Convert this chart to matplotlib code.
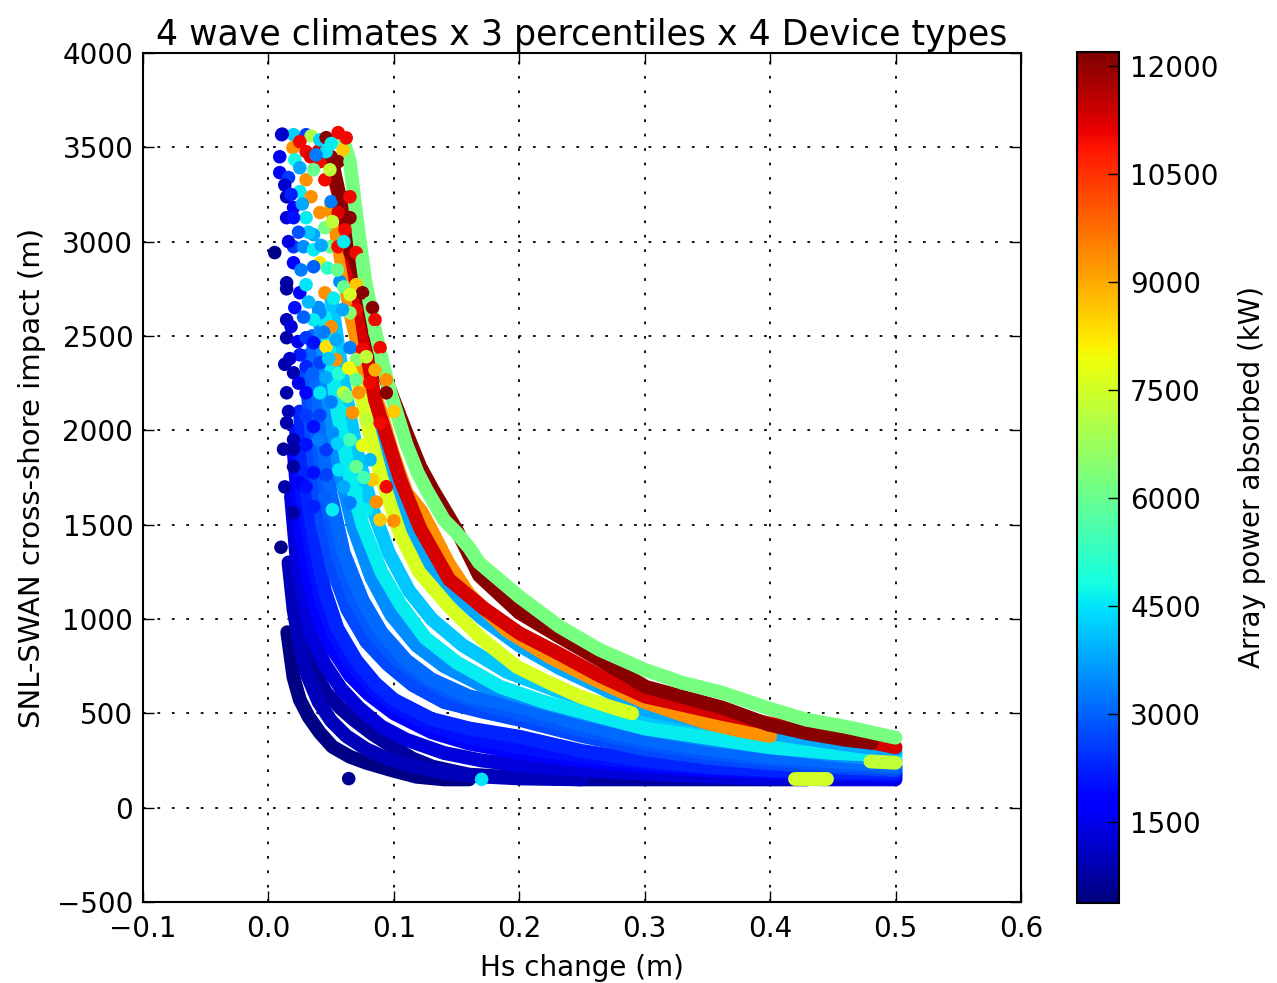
import matplotlib
matplotlib.use("Agg")
import matplotlib.pyplot as plt
from matplotlib import colors

# Bandes continues (une configuration = une courbe, puissance constante)
curve_power = [450, 700, 1000, 1300, 1800, 2000, 2300, 2700, 2900, 3100, 3500,
               4200, 4600, 3800, 7600, 9300, 11300, 12100, 6200, 7500, 7300]
curve_hs = [
    [0.015, 0.020, 0.025, 0.032, 0.041, 0.051, 0.065, 0.078, 0.097, 0.118, 0.140, 0.160],
    [0.023, 0.029, 0.035, 0.046, 0.057, 0.068, 0.083, 0.099, 0.115, 0.131, 0.16, 0.20, 0.25, 0.30, 0.36, 0.43],
    [0.016, 0.020, 0.025, 0.031, 0.040, 0.050, 0.062, 0.078, 0.095, 0.115, 0.14, 0.17, 0.20, 0.25],
    [0.018, 0.022, 0.028, 0.035, 0.045, 0.058, 0.072, 0.09, 0.11, 0.14, 0.17, 0.20, 0.25, 0.30, 0.35, 0.40, 0.45, 0.50],
    [0.020, 0.025, 0.032, 0.040, 0.050, 0.065, 0.080, 0.10, 0.13, 0.16, 0.20, 0.25, 0.30, 0.35, 0.40, 0.45, 0.50],
    [0.022, 0.027, 0.034, 0.042, 0.052, 0.066, 0.082, 0.10, 0.125, 0.155, 0.19, 0.23, 0.28, 0.33, 0.38, 0.44, 0.50],
    [0.025, 0.030, 0.037, 0.045, 0.055, 0.070, 0.085, 0.10, 0.13, 0.16, 0.20, 0.25, 0.30, 0.35, 0.40, 0.45, 0.50],
    [0.030, 0.036, 0.043, 0.052, 0.063, 0.078, 0.095, 0.115, 0.14, 0.17, 0.20, 0.25, 0.30, 0.35, 0.40, 0.45, 0.50],
    [0.032, 0.039, 0.047, 0.056, 0.068, 0.083, 0.10, 0.12, 0.145, 0.175, 0.21, 0.25, 0.30, 0.35, 0.40, 0.45, 0.50],
    [0.035, 0.042, 0.050, 0.060, 0.075, 0.090, 0.11, 0.13, 0.16, 0.20, 0.25, 0.30, 0.35, 0.40, 0.45, 0.50],
    [0.040, 0.048, 0.057, 0.068, 0.082, 0.098, 0.118, 0.14, 0.17, 0.20, 0.25, 0.30, 0.35, 0.40, 0.45, 0.50],
    [0.050, 0.060, 0.070, 0.082, 0.096, 0.112, 0.13, 0.155, 0.19, 0.23, 0.27, 0.31, 0.36, 0.41, 0.46, 0.50],
    [0.045, 0.055, 0.065, 0.075, 0.09, 0.105, 0.125, 0.15, 0.185, 0.22, 0.26, 0.30, 0.35, 0.40, 0.45, 0.50],
    [0.060, 0.070, 0.080, 0.090, 0.10, 0.115, 0.13, 0.144, 0.171, 0.20, 0.232, 0.264, 0.30, 0.35, 0.40, 0.45, 0.50],
    [0.070, 0.080, 0.090, 0.105, 0.12, 0.144, 0.171, 0.198, 0.224, 0.248, 0.27, 0.29],
    [0.050, 0.058, 0.066, 0.075, 0.089, 0.099, 0.110, 0.122, 0.130, 0.144, 0.160, 0.19, 0.224, 0.26, 0.30, 0.349, 0.375, 0.40],
    [0.040, 0.050, 0.060, 0.070, 0.078, 0.085, 0.095, 0.105, 0.121, 0.144, 0.171, 0.20, 0.232, 0.264, 0.30, 0.33, 0.36, 0.40, 0.45, 0.50],
    [0.050, 0.057, 0.066, 0.077, 0.093, 0.110, 0.121, 0.131, 0.150, 0.168, 0.200, 0.232, 0.264, 0.301, 0.330, 0.362, 0.399, 0.429, 0.460, 0.481],
    [0.060, 0.065, 0.070, 0.077, 0.085, 0.095, 0.110, 0.119, 0.126, 0.140, 0.150, 0.160, 0.168, 0.200, 0.232, 0.264, 0.300, 0.330, 0.362, 0.397, 0.429, 0.460, 0.500],
    [0.420, 0.445],
    [0.480, 0.500],
]
curve_impact = [
    [930, 690, 572, 482, 397, 323, 270, 238, 201, 164, 150, 150],
    [1140, 900, 747, 610, 530, 466, 390, 323, 260, 217, 175, 160, 150, 150, 150, 150],
    [1300, 1050, 860, 700, 560, 460, 380, 310, 260, 220, 185, 165, 155, 150],
    [1650, 1350, 1100, 900, 760, 630, 530, 430, 360, 290, 250, 225, 200, 180, 165, 155, 150, 150],
    [1900, 1500, 1200, 1000, 850, 700, 600, 500, 400, 340, 290, 250, 220, 200, 185, 175, 165],
    [2000, 1650, 1350, 1100, 920, 760, 640, 540, 450, 380, 330, 290, 250, 220, 200, 185, 175],
    [2100, 1700, 1400, 1150, 950, 780, 660, 572, 470, 420, 376, 300, 250, 215, 200, 190, 185],
    [2300, 1850, 1500, 1250, 1050, 880, 760, 650, 560, 510, 466, 380, 310, 265, 235, 215, 200],
    [2400, 1950, 1600, 1330, 1100, 930, 800, 700, 610, 540, 480, 410, 340, 290, 255, 230, 210],
    [2500, 2000, 1650, 1350, 1100, 930, 780, 680, 590, 535, 440, 360, 310, 270, 245, 220],
    [2650, 2150, 1780, 1480, 1220, 1020, 860, 750, 650, 590, 500, 420, 360, 320, 280, 250],
    [2700, 2250, 1900, 1600, 1350, 1150, 1000, 860, 720, 620, 540, 470, 410, 355, 310, 285],
    [2600, 2100, 1750, 1500, 1250, 1080, 900, 770, 640, 560, 490, 420, 370, 320, 290, 275],
    [2900, 2500, 2150, 1900, 1700, 1450, 1280, 1155, 1000, 860, 740, 640, 520, 450, 395, 345, 300],
    [2300, 2000, 1750, 1450, 1250, 1065, 890, 747, 662, 590, 540, 500],
    [3200, 2900, 2600, 2350, 2110, 1880, 1670, 1570, 1470, 1290, 1130, 940, 800, 680, 560, 450, 410, 380],
    [3480, 3400, 3150, 2780, 2430, 2160, 1950, 1740, 1480, 1210, 1060, 925, 815, 700, 590, 545, 500, 445, 390, 320],
    [3450, 3233, 2984, 2719, 2279, 1987, 1807, 1685, 1473, 1230, 1033, 906, 784, 640, 588, 530, 440, 395, 360, 344],
    [3530, 3420, 3143, 2800, 2530, 2250, 1925, 1775, 1685, 1525, 1457, 1378, 1298, 1118, 960, 837, 731, 662, 609, 530, 466, 429, 371],
    [150, 150],
    [245, 238],
]

# Points isoles (nuage en haut a gauche)
pts_hs = [0.0105, 0.020, 0.030, 0.034, 0.041, 0.046, 0.0556,
          0.0195, 0.025, 0.030, 0.0335, 0.041, 0.046, 0.0594, 0.0555, 0.065,
          0.009, 0.009, 0.016, 0.021, 0.025, 0.030, 0.036, 0.045, 0.049,
          0.0145, 0.020, 0.025, 0.034, 0.041, 0.050, 0.0556, 0.059, 0.065, 0.070, 0.065, 0.061, 0.045, 0.051, 0.030, 0.0145, 0.020, 0.036,
          0.005, 0.020, 0.028, 0.036, 0.041, 0.049, 0.0555, 0.065, 0.070, 0.075,
          0.020, 0.0145, 0.0145, 0.025, 0.030, 0.036, 0.045, 0.057, 0.060, 0.070, 0.075, 0.081, 0.083, 0.085, 0.085, 0.070, 0.065, 0.059, 0.050, 0.041, 0.036, 0.0145, 0.0145, 0.0235, 0.030, 0.036, 0.046, 0.054, 0.065, 0.075, 0.089, 0.090,
          0.020, 0.030, 0.041, 0.054, 0.070, 0.078, 0.070, 0.081, 0.094, 0.094, 0.0145, 0.030, 0.041, 0.060,
          0.0145, 0.020, 0.020, 0.020, 0.030, 0.036, 0.041, 0.046, 0.051, 0.058, 0.067, 0.078, 0.089, 0.100, 0.025, 0.036, 0.046, 0.056, 0.070, 0.081, 0.083, 0.094, 0.020, 0.036, 0.051, 0.065, 0.078, 0.086, 0.089, 0.100,
          0.010, 0.012, 0.013, 0.064, 0.170,
          0.013, 0.018, 0.027, 0.032, 0.024, 0.016, 0.042, 0.047, 0.052, 0.026, 0.032, 0.021, 0.018, 0.028, 0.044, 0.048, 0.025, 0.017, 0.035, 0.046, 0.056, 0.064, 0.024, 0.050, 0.063, 0.072, 0.085, 0.030, 0.040, 0.055, 0.065, 0.075, 0.060, 0.070, 0.045, 0.030, 0.076, 0.013, 0.016, 0.011, 0.060, 0.055, 0.065, 0.038, 0.050, 0.062]
pts_impact = [3567, 3567, 3567, 3560, 3540, 3551, 3578,
              3498, 3530, 3477, 3450, 3424, 3477, 3487, 3424, 3424,
              3450, 3366, 3340, 3434, 3392, 3328, 3381, 3328, 3381,
              3238, 3180, 3265, 3238, 3154, 3212, 3154, 3238, 3238, 3159, 3127, 3063, 3074, 3106, 3127, 3127, 3127, 3037,
              2942, 2973, 2973, 2957, 2888, 2973, 2973, 2942, 2942, 2904,
              2888, 2782, 2750, 2729, 2772, 2867, 2729, 2788, 2760, 2772, 2729, 2676, 2650, 2586, 2517, 2639, 2623, 2639, 2549, 2623, 2586, 2586, 2491, 2470, 2491, 2464, 2443, 2480, 2438, 2427, 2438, 2374,
              2305, 2337, 2358, 2374, 2374, 2390, 2268, 2252, 2268, 2199, 2199, 2199, 2199, 2199,
              2040, 1950, 1900, 1807, 1924, 2020, 2080, 1897, 1987, 2100, 2093, 2056, 2040, 2100, 1722, 1775, 1764, 1790, 1807, 1844, 1738, 1701, 1563, 1595, 1579, 1616, 1579, 1620, 1526, 1520,
              1380, 1900, 1700, 154, 150,
              3300, 3250, 3200, 3050, 3050, 3000, 2980, 2860, 2700, 2850, 2680, 2650, 2550, 2600, 2520, 2380, 2400, 2380, 2300, 2280, 2300, 2330, 2250, 2150, 2180, 2200, 2320, 2080, 1950, 1930, 1950, 1920, 1700, 1680, 1650, 1700, 1750, 2350, 2100, 3570, 3000, 2850, 2720, 3460, 3520, 3550]
pts_power = [1600, 4300, 2600, 7000, 4300, 12100, 11000,
             9300, 11000, 11000, 11200, 11000, 4500, 8600, 12100, 6200,
             1500, 1600, 2500, 4800, 3800, 9300, 6000, 11000, 7300,
             900, 1800, 4600, 9300, 9300, 3300, 11200, 12100, 11000, 6200, 12100, 11000, 6200, 7300, 4600, 1300, 2000, 3800,
             500, 2500, 3500, 4600, 8300, 6000, 11000, 12100, 11000, 6200,
             1700, 800, 700, 1800, 4500, 3000, 9300, 3500, 6000, 8600, 12100, 6200, 12100, 11000, 6200, 11000, 6500, 3800, 9300, 3500, 4600, 1000, 800, 1500, 2500, 2000, 8300, 3800, 3300, 11000, 11000, 6200,
             900, 2300, 2600, 9300, 6500, 7300, 6000, 11000, 9300, 12100, 800, 1800, 4500, 7300,
             800, 900, 800, 700, 2000, 2000, 2600, 2500, 3500, 4600, 9300, 7300, 11000, 8600, 1600, 2000, 2600, 4500, 6000, 4000, 8600, 11000, 800, 2200, 4600, 3300, 4600, 9300, 8600, 9300,
             500, 700, 800, 600, 4500,
             1200, 2200, 3800, 4200, 2800, 1400, 3800, 5200, 4600, 3300, 4000, 2000, 1300, 3000, 3300, 4200, 2200, 1200, 3000, 3800, 5000, 8000, 1500, 3300, 6500, 9300, 9000, 2500, 3300, 4300, 5500, 7800, 3800, 4600, 3000, 2000, 5500, 900, 1000, 1200, 4600, 6000, 7500, 3300, 4600, 11000]

cb_ticks = [1500, 3000, 4500, 6000, 7500, 9000, 10500, 12000]

fig = plt.figure(figsize=(12.77, 9.83), dpi=100)
ax = fig.add_axes([0.112, 0.0824, 0.6875, 0.8637])
cax = fig.add_axes([0.8434, 0.0814, 0.0329, 0.8657])

cmap = plt.get_cmap("jet")
norm = colors.Normalize(vmin=375, vmax=12200)

for p, xs, ys in zip(curve_power, curve_hs, curve_impact):
    ax.plot(xs, ys, color=cmap(norm(p)), lw=10, solid_capstyle="round",
            solid_joinstyle="round", zorder=2)
sc = ax.scatter(pts_hs, pts_impact, c=pts_power, cmap=cmap, norm=norm,
                s=95, linewidths=0, zorder=3)

ax.set_xlim(-0.1, 0.6)
ax.set_ylim(-500, 4000)
ax.set_xticks([-0.1, 0.0, 0.1, 0.2, 0.3, 0.4, 0.5, 0.6])
ax.set_yticks(range(-500, 4001, 500))
ax.grid(True, color="k", linestyle=(0, (1.5, 6.5)), linewidth=1.3)
ax.set_axisbelow(True)
ax.tick_params(direction="in", length=8, width=1, top=True, right=True, labelsize=20)
ax.tick_params(axis="x", pad=9)
ax.tick_params(axis="y", pad=7)
for s in ax.spines.values():
    s.set_linewidth(1.5)

ax.set_title("4 wave climates x 3 percentiles x 4 Device types", fontsize=25, pad=6)
ax.set_xlabel("Hs change (m)", fontsize=20, labelpad=8)
ax.set_ylabel("SNL-SWAN cross-shore impact (m)", fontsize=21, labelpad=8)

cb = fig.colorbar(sc, cax=cax, ticks=cb_ticks)
cb.ax.tick_params(direction="in", length=8, width=1, labelsize=20, pad=8)
cb.outline.set_linewidth(1.5)
cb.set_label("Array power absorbed (kW)", fontsize=20, labelpad=14)

fig.savefig("out.png", dpi=100)
